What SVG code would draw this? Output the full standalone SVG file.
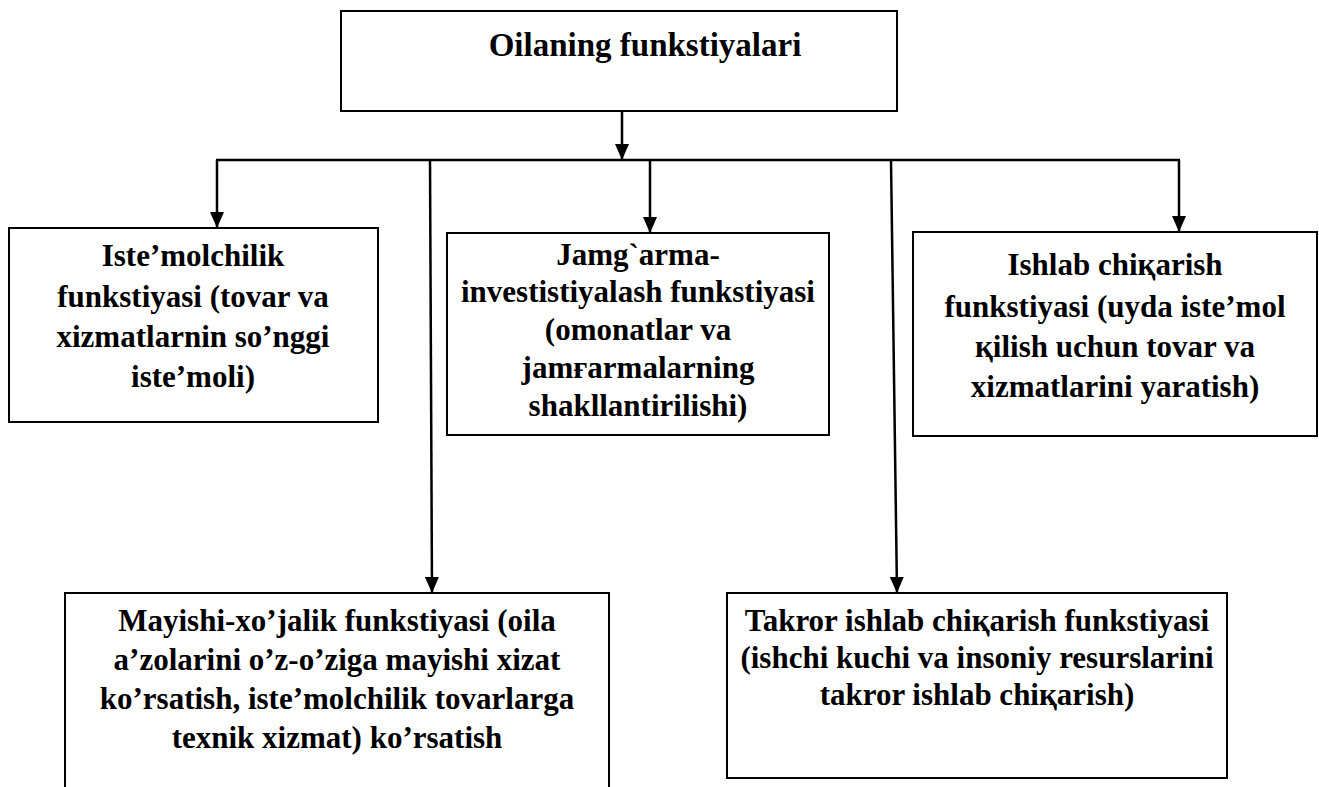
<svg xmlns="http://www.w3.org/2000/svg" width="1319" height="787" viewBox="0 0 1319 787">
<style>
.box{fill:#fff;stroke:#000;stroke-width:2}
.t{font-family:"Liberation Serif","Times New Roman",serif;font-weight:bold;font-size:31px;fill:#000;text-anchor:middle}
.title{font-size:33px}
.c{stroke:#000;stroke-width:2.5;fill:none}
</style>
<defs>
<marker id="ah" viewBox="0 0 16 14" refX="16" refY="7" markerWidth="16" markerHeight="14" markerUnits="userSpaceOnUse" orient="auto">
<path d="M0,0 L16,7 L0,14 Z" fill="#000"/>
</marker>
</defs>
<rect width="1319" height="787" fill="#fff"/>
<g id="connectors">
<line class="c" x1="622" y1="111" x2="622" y2="160" marker-end="url(#ah)"/>
<line class="c" x1="216" y1="160" x2="1180" y2="160"/>
<line class="c" x1="217" y1="160" x2="217" y2="228" marker-end="url(#ah)"/>
<line class="c" x1="650" y1="160" x2="650" y2="233" marker-end="url(#ah)"/>
<line class="c" x1="1179" y1="160" x2="1179" y2="232" marker-end="url(#ah)"/>
<line class="c" x1="430" y1="160" x2="432" y2="593" marker-end="url(#ah)"/>
<line class="c" x1="891" y1="160" x2="897" y2="593" marker-end="url(#ah)"/>
</g>
<g id="top">
<rect class="box" x="341" y="11" width="556" height="100"/>
<text class="t title" x="645" y="56">Oilaning funkstiyalari</text>
</g>
<g id="istemol">
<rect class="box" x="9" y="228" width="369" height="194"/>
<text class="t" x="193" y="266">Iste’molchilik</text>
<text class="t" x="193" y="307">funkstiyasi (tovar va</text>
<text class="t" x="193" y="347">xizmatlarnin so’nggi</text>
<text class="t" x="193" y="387">iste’moli)</text>
</g>
<g id="jamgarma">
<rect class="box" x="447" y="233" width="382" height="202"/>
<text class="t" x="638" y="265">Jamg`arma-</text>
<text class="t" x="638" y="302">investistiyalash funkstiyasi</text>
<text class="t" x="638" y="340">(omonatlar va</text>
<text class="t" x="638" y="378">jamғarmalarning</text>
<text class="t" x="638" y="416">shakllantirilishi)</text>
</g>
<g id="ishlab">
<rect class="box" x="913" y="232" width="404" height="204"/>
<text class="t" x="1115" y="275">Ishlab chiқarish</text>
<text class="t" x="1115" y="317">funkstiyasi (uyda iste’mol</text>
<text class="t" x="1115" y="357">қilish uchun tovar va</text>
<text class="t" x="1115" y="397">xizmatlarini yaratish)</text>
</g>
<g id="mayishi">
<rect class="box" x="65" y="593" width="544" height="220"/>
<text class="t" x="337" y="631">Mayishi-xo’jalik funkstiyasi (oila</text>
<text class="t" x="337" y="670">a’zolarini o’z-o’ziga mayishi xizat</text>
<text class="t" x="337" y="709">ko’rsatish, iste’molchilik tovarlarga</text>
<text class="t" x="337" y="748">texnik xizmat) ko’rsatish</text>
</g>
<g id="takror">
<rect class="box" x="727" y="593" width="500" height="185"/>
<text class="t" x="977" y="631">Takror ishlab chiқarish funkstiyasi</text>
<text class="t" x="977" y="668">(ishchi kuchi va insoniy resurslarini</text>
<text class="t" x="977" y="705">takror ishlab chiқarish)</text>
</g>
</svg>
